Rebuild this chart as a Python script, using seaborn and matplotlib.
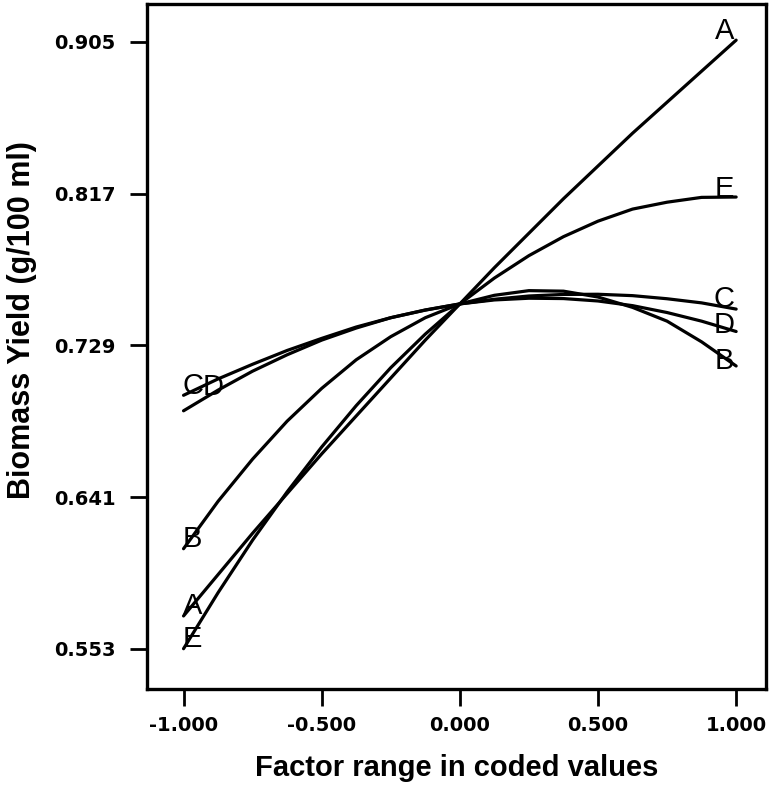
import matplotlib
matplotlib.use("Agg")
import matplotlib.pyplot as plt
import seaborn as sns
import pandas as pd

# Coded factor levels
x_coded = [-1.0, -0.875, -0.75, -0.625, -0.5, -0.375, -0.25, -0.125, 0.0,
           0.125, 0.25, 0.375, 0.5, 0.625, 0.75, 0.875, 1.0]

# Biomass yield (g/100 ml)
yield_A = [0.572, 0.596, 0.620, 0.643, 0.666, 0.688, 0.710, 0.732, 0.753,
           0.774, 0.794, 0.814, 0.833, 0.852, 0.870, 0.888, 0.906]
yield_B = [0.611, 0.6385, 0.663, 0.685, 0.704, 0.7206, 0.734, 0.745, 0.753,
           0.758, 0.7607, 0.7604, 0.757, 0.751, 0.743, 0.731, 0.717]
yield_C = [0.700, 0.7095, 0.718, 0.726, 0.733, 0.7396, 0.745, 0.7494, 0.753,
           0.7557, 0.7576, 0.7585, 0.7586, 0.7578, 0.756, 0.7536, 0.750]
yield_D = [0.691, 0.703, 0.714, 0.7235, 0.732, 0.739, 0.745, 0.7495, 0.753,
           0.7553, 0.7563, 0.7561, 0.7547, 0.752, 0.748, 0.743, 0.737]
yield_E = [0.553, 0.5855, 0.616, 0.644, 0.670, 0.694, 0.716, 0.7355, 0.753,
           0.768, 0.781, 0.792, 0.801, 0.808, 0.812, 0.8148, 0.815]

y_ticks = [0.553, 0.641, 0.729, 0.817, 0.905]
y_tick_labels = ["0.553", "0.641", "0.729", "0.817", "0.905"]
x_ticks = [-1.0, -0.5, 0.0, 0.5, 1.0]
x_tick_labels = ["-1.000", "-0.500", "0.000", "0.500", "1.000"]

series = {"A": yield_A, "B": yield_B, "C": yield_C, "D": yield_D, "E": yield_E}
df = pd.concat(
    [pd.DataFrame({"x": x_coded, "y": v, "factor": k}) for k, v in series.items()],
    ignore_index=True,
)

sns.set_theme(style="white")
plt.rcParams["font.family"] = ["Liberation Sans", "DejaVu Sans"]

fig = plt.figure(figsize=(7.74, 7.88), dpi=100)
ax = fig.add_axes([0.190, 0.126, 0.800, 0.869])

sns.lineplot(data=df, x="x", y="y", hue="factor", units="factor", estimator=None,
             palette={k: "black" for k in series}, legend=False, linewidth=2.3,
             sort=True, ax=ax)

ax.set_xlim(-1.132, 1.109)
ax.set_ylim(0.5298, 0.927)
ax.set_xticks(x_ticks)
ax.set_xticklabels(x_tick_labels)
ax.set_yticks(y_ticks)
ax.set_yticklabels(y_tick_labels)

for s in ax.spines.values():
    s.set_visible(True)
    s.set_color("black")
    s.set_linewidth(2.4)

ax.tick_params(axis="both", which="major", direction="out", length=12.5,
               width=2.0, color="black", labelcolor="black",
               bottom=True, left=True, top=False, right=False)
ax.tick_params(axis="x", pad=7)
ax.tick_params(axis="y", pad=10)
for lab in ax.get_xticklabels() + ax.get_yticklabels():
    lab.set_fontfamily("DejaVu Sans")
    lab.set_fontweight("bold")
    lab.set_fontsize(14)
    lab.set_color("black")

ax.set_xlabel("Factor range in coded values", fontsize=21, fontweight="bold",
              labelpad=14, color="black")
ax.set_ylabel("Biomass Yield (g/100 ml)", fontsize=22, fontweight="bold",
              color="black")
ax.yaxis.set_label_coords(-0.178, 0.538)

# End labels for each factor (pixel offsets from line ends)
left_offsets = {"A": (9, 10), "B": (9, 10), "C": (9, 9), "D": (30, 24), "E": (9, 10)}
right_offsets = {"A": (-12, 9), "B": (-12, 5), "C": (-12, 10), "D": (-12, 6), "E": (-12, 8)}
for k, v in series.items():
    ax.annotate(k, xy=(x_coded[0], v[0]), xytext=left_offsets[k],
                textcoords="offset pixels", ha="center", va="center",
                fontsize=21, color="black")
    ax.annotate(k, xy=(x_coded[-1], v[-1]), xytext=right_offsets[k],
                textcoords="offset pixels", ha="center", va="center",
                fontsize=21, color="black")

fig.savefig("out.png", dpi=100, facecolor="white")
